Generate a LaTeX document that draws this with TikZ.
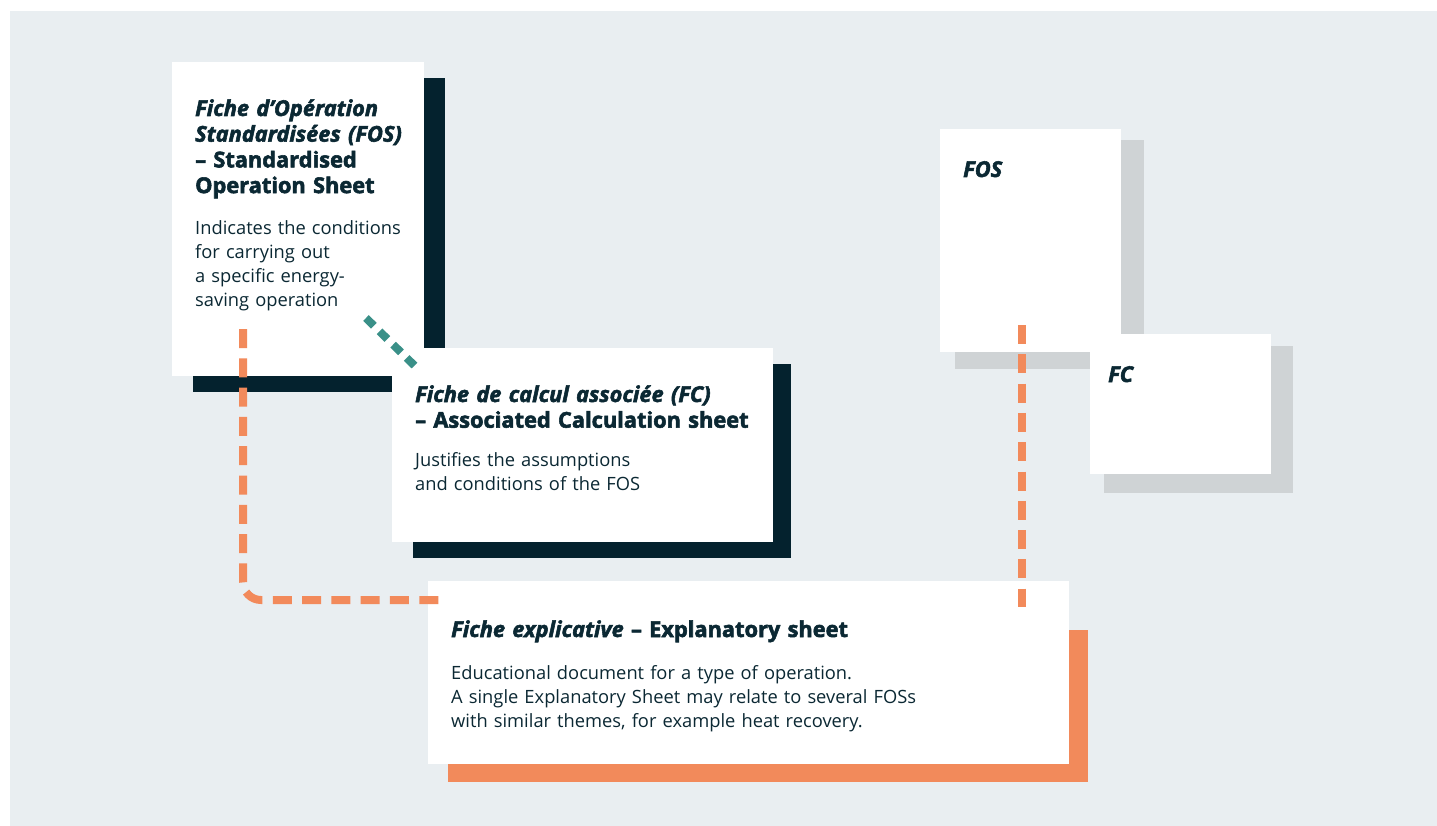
\documentclass[tikz,border=0pt]{standalone}
\usepackage{fontspec}
\setmainfont{Open Sans}[BoldFeatures={FakeBold=2.5}, BoldItalicFeatures={FakeBold=2.5}]
\definecolor{bgcol}{HTML}{E9EEF1}
\definecolor{navy}{HTML}{04222E}
\definecolor{ink}{HTML}{0B2833}
\definecolor{coral}{HTML}{F28A5B}
\definecolor{linkteal}{HTML}{3A9088}
\definecolor{sheetgrey}{HTML}{CFD3D5}
\tikzset{
  sheet/.style={fill=white, anchor=north west, inner sep=0pt, outer sep=0pt},
  backing/.style={sheet, fill=#1},
  title/.style={anchor=base west, inner sep=0pt, text=ink, align=left,
    font=\fontsize{21.8}{25.7}\selectfont\bfseries},
  body/.style={anchor=base west, inner sep=0pt, text=ink, align=left,
    font=\fontsize{18.3}{24}\selectfont},
  link/.style={line width=8pt, dash pattern=on 19pt off 10.3pt},
}
\begin{document}
\begin{tikzpicture}[x=1pt, y=-1pt]
  \useasboundingbox (0,0) rectangle (1437,826);
  \fill[bgcol] (10,11) rectangle (1437,826);

  \node[backing=navy, minimum width=252pt, minimum height=314pt] (fos back) at (193,78) {};
  \node[sheet, minimum width=252pt, minimum height=314pt] (fos) at (172,62) {};
  \node[backing=navy, minimum width=378pt, minimum height=194pt] (fc back) at (413,364) {};
  \node[sheet, minimum width=381pt, minimum height=194pt] (fc) at (392,348) {};
  \node[backing=coral, minimum width=640pt, minimum height=152pt] (expl back) at (448,630) {};
  \node[sheet, minimum width=641pt, minimum height=183pt] (expl) at (428,581) {};

  \node[backing=sheetgrey, minimum width=189pt, minimum height=229pt] (mini fos back) at (955,140) {};
  \node[sheet, minimum width=181pt, minimum height=223pt] (mini fos) at (940,129) {};
  \node[backing=sheetgrey, minimum width=189pt, minimum height=147pt] (mini fc back) at (1104,346) {};
  \node[sheet, minimum width=181pt, minimum height=140pt] (mini fc) at (1090,334) {};

  \node[title, text width=240pt] (fos title) at (195,116)
    {{\itshape Fiche d’Opération}\\ {\itshape Standardisées (FOS)}\\ – Standardised\\ Operation Sheet};
  \node[body, text width=240pt] (fos text) at (195,235)
    {Indicates the conditions\\ for carrying out\\ a specific energy-\\ saving operation};
  \node[title, text width=380pt] (fc title) at (415,402)
    {{\itshape Fiche de calcul associée (FC)}\\ – Associated Calculation sheet};
  \node[body, text width=360pt] (fc text) at (415,466)
    {Justifies the assumptions\\ and conditions of the FOS};
  \node[title, text width=600pt] (expl title) at (451,637)
    {{\itshape Fiche explicative} – Explanatory sheet};
  \node[body, text width=600pt] (expl text) at (451,679)
    {Educational document for a type of operation.\\ A single Explanatory Sheet may relate to several FOSs\\ with similar themes, for example heat recovery.};
  \node[title] (mini fos label) at (963,177) {\itshape FOS};
  \node[title] (mini fc label) at (1108,382) {\itshape FC};

  \coordinate (fos drop) at (243,329);
  \coordinate (expl hook) at (440,600);
  \coordinate (mini drop) at (1022,325);
  \coordinate (expl top) at (1022,607);
  \coordinate (fos note) at (366,318);
  \coordinate (fc corner) at (419,370);
  \begin{scope}[link]
    \draw[coral, rounded corners=18pt] (fos drop) |- (expl hook);
    \draw[coral] (mini drop) -- (expl top);
    \draw[linkteal, dash pattern=on 11pt off 8pt] (fos note) -- (fc corner);
  \end{scope}
\end{tikzpicture}
\end{document}
